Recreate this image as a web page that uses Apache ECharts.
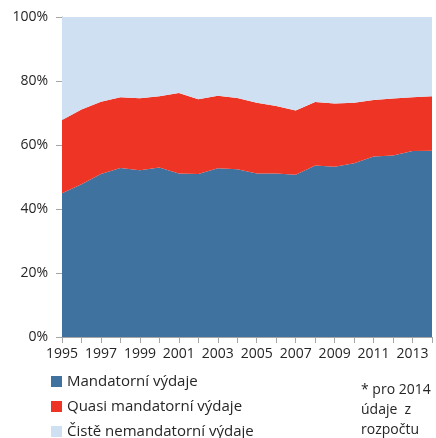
<!DOCTYPE html>
<html>
<head>
<meta charset="utf-8">
<script src="https://cdn.jsdelivr.net/npm/echarts@6/dist/echarts.min.js"></script>
<style>
  html, body { margin: 0; padding: 0; background: #fff; }
  #chart { width: 436px; height: 438px; }
</style>
</head>
<body>
<div id="chart"></div>
<script>
// years on the x axis
var years = ['1995', '1996', '1997', '1998', '1999', '2000', '2001', '2002', '2003', '2004',
  '2005', '2006', '2007', '2008', '2009', '2010', '2011', '2012', '2013', '2014'];

// shares in %
var mandatorni = [44.9, 47.7, 50.9, 52.8, 52.1, 53.0, 51.1, 50.9, 52.7, 52.4,
  51.1, 51.1, 50.7, 53.6, 53.2, 54.3, 56.4, 56.7, 58.1, 58.2];
var quasiMandatorni = [22.9, 23.4, 22.6, 22.1, 22.5, 22.2, 25.15, 23.4, 22.7, 22.3,
  22.1, 21.1, 20.1, 19.8, 19.8, 18.9, 17.7, 17.8, 16.8, 17.0];
var nemandatorni = [32.2, 28.9, 26.5, 25.1, 25.4, 24.8, 23.75, 25.7, 24.6, 25.3,
  26.8, 27.8, 29.2, 26.6, 27.0, 26.8, 25.9, 25.5, 25.1, 24.8];

var seriesNames = ['Mandatorní výdaje', 'Quasi mandatorní výdaje', 'Čistě nemandatorní výdaje'];
var colors = ['#40729f', '#ee3424', '#cfe0f2'];

var chart = echarts.init(document.getElementById('chart'));

function areaSeries(name, data, color) {
  return {
    name: name,
    type: 'line',
    stack: 'total',
    data: data,
    symbol: 'none',
    lineStyle: { width: 0 },
    areaStyle: { color: color, opacity: 1 },
    itemStyle: { color: color },
    animation: false
  };
}

var option = {
  textStyle: { fontFamily: 'Open Sans' },
  grid: {
    left: 62,
    right: 4,
    top: 17,
    bottom: 101
  },
  legend: {
    orient: 'vertical',
    left: 51,
    top: 372,
    height: 90,
    padding: 0,
    itemGap: 6,
    itemWidth: 11,
    itemHeight: 11,
    icon: 'rect',
    data: seriesNames,
    textStyle: { fontSize: 15, color: '#262626', fontFamily: 'Open Sans', lineHeight: 19 }
  },
  xAxis: {
    type: 'category',
    boundaryGap: false,
    data: years,
    axisLine: { lineStyle: { color: '#a6a6a6' } },
    axisTick: { interval: 0, length: 6, lineStyle: { color: '#a6a6a6' } },
    axisLabel: { interval: 1, fontSize: 14, color: '#262626', margin: 10 }
  },
  yAxis: {
    type: 'value',
    min: 0,
    max: 100,
    interval: 20,
    axisLine: { show: true, lineStyle: { color: '#a6a6a6' } },
    axisTick: { show: true, length: 6, lineStyle: { color: '#a6a6a6' } },
    splitLine: { show: false },
    axisLabel: { formatter: '{value}%', fontSize: 14, color: '#262626', margin: 14 }
  },
  graphic: [
    {
      type: 'text',
      left: 361,
      top: 380,
      style: {
        text: '* pro 2014\núdaje  z\nrozpočtu',
        fontSize: 14,
        lineHeight: 20,
        fill: '#262626',
        fontFamily: 'Open Sans'
      }
    }
  ],
  series: [
    areaSeries(seriesNames[0], mandatorni, colors[0]),
    areaSeries(seriesNames[1], quasiMandatorni, colors[1]),
    areaSeries(seriesNames[2], nemandatorni, colors[2])
  ]
};

chart.setOption(option);
</script>
</body>
</html>
